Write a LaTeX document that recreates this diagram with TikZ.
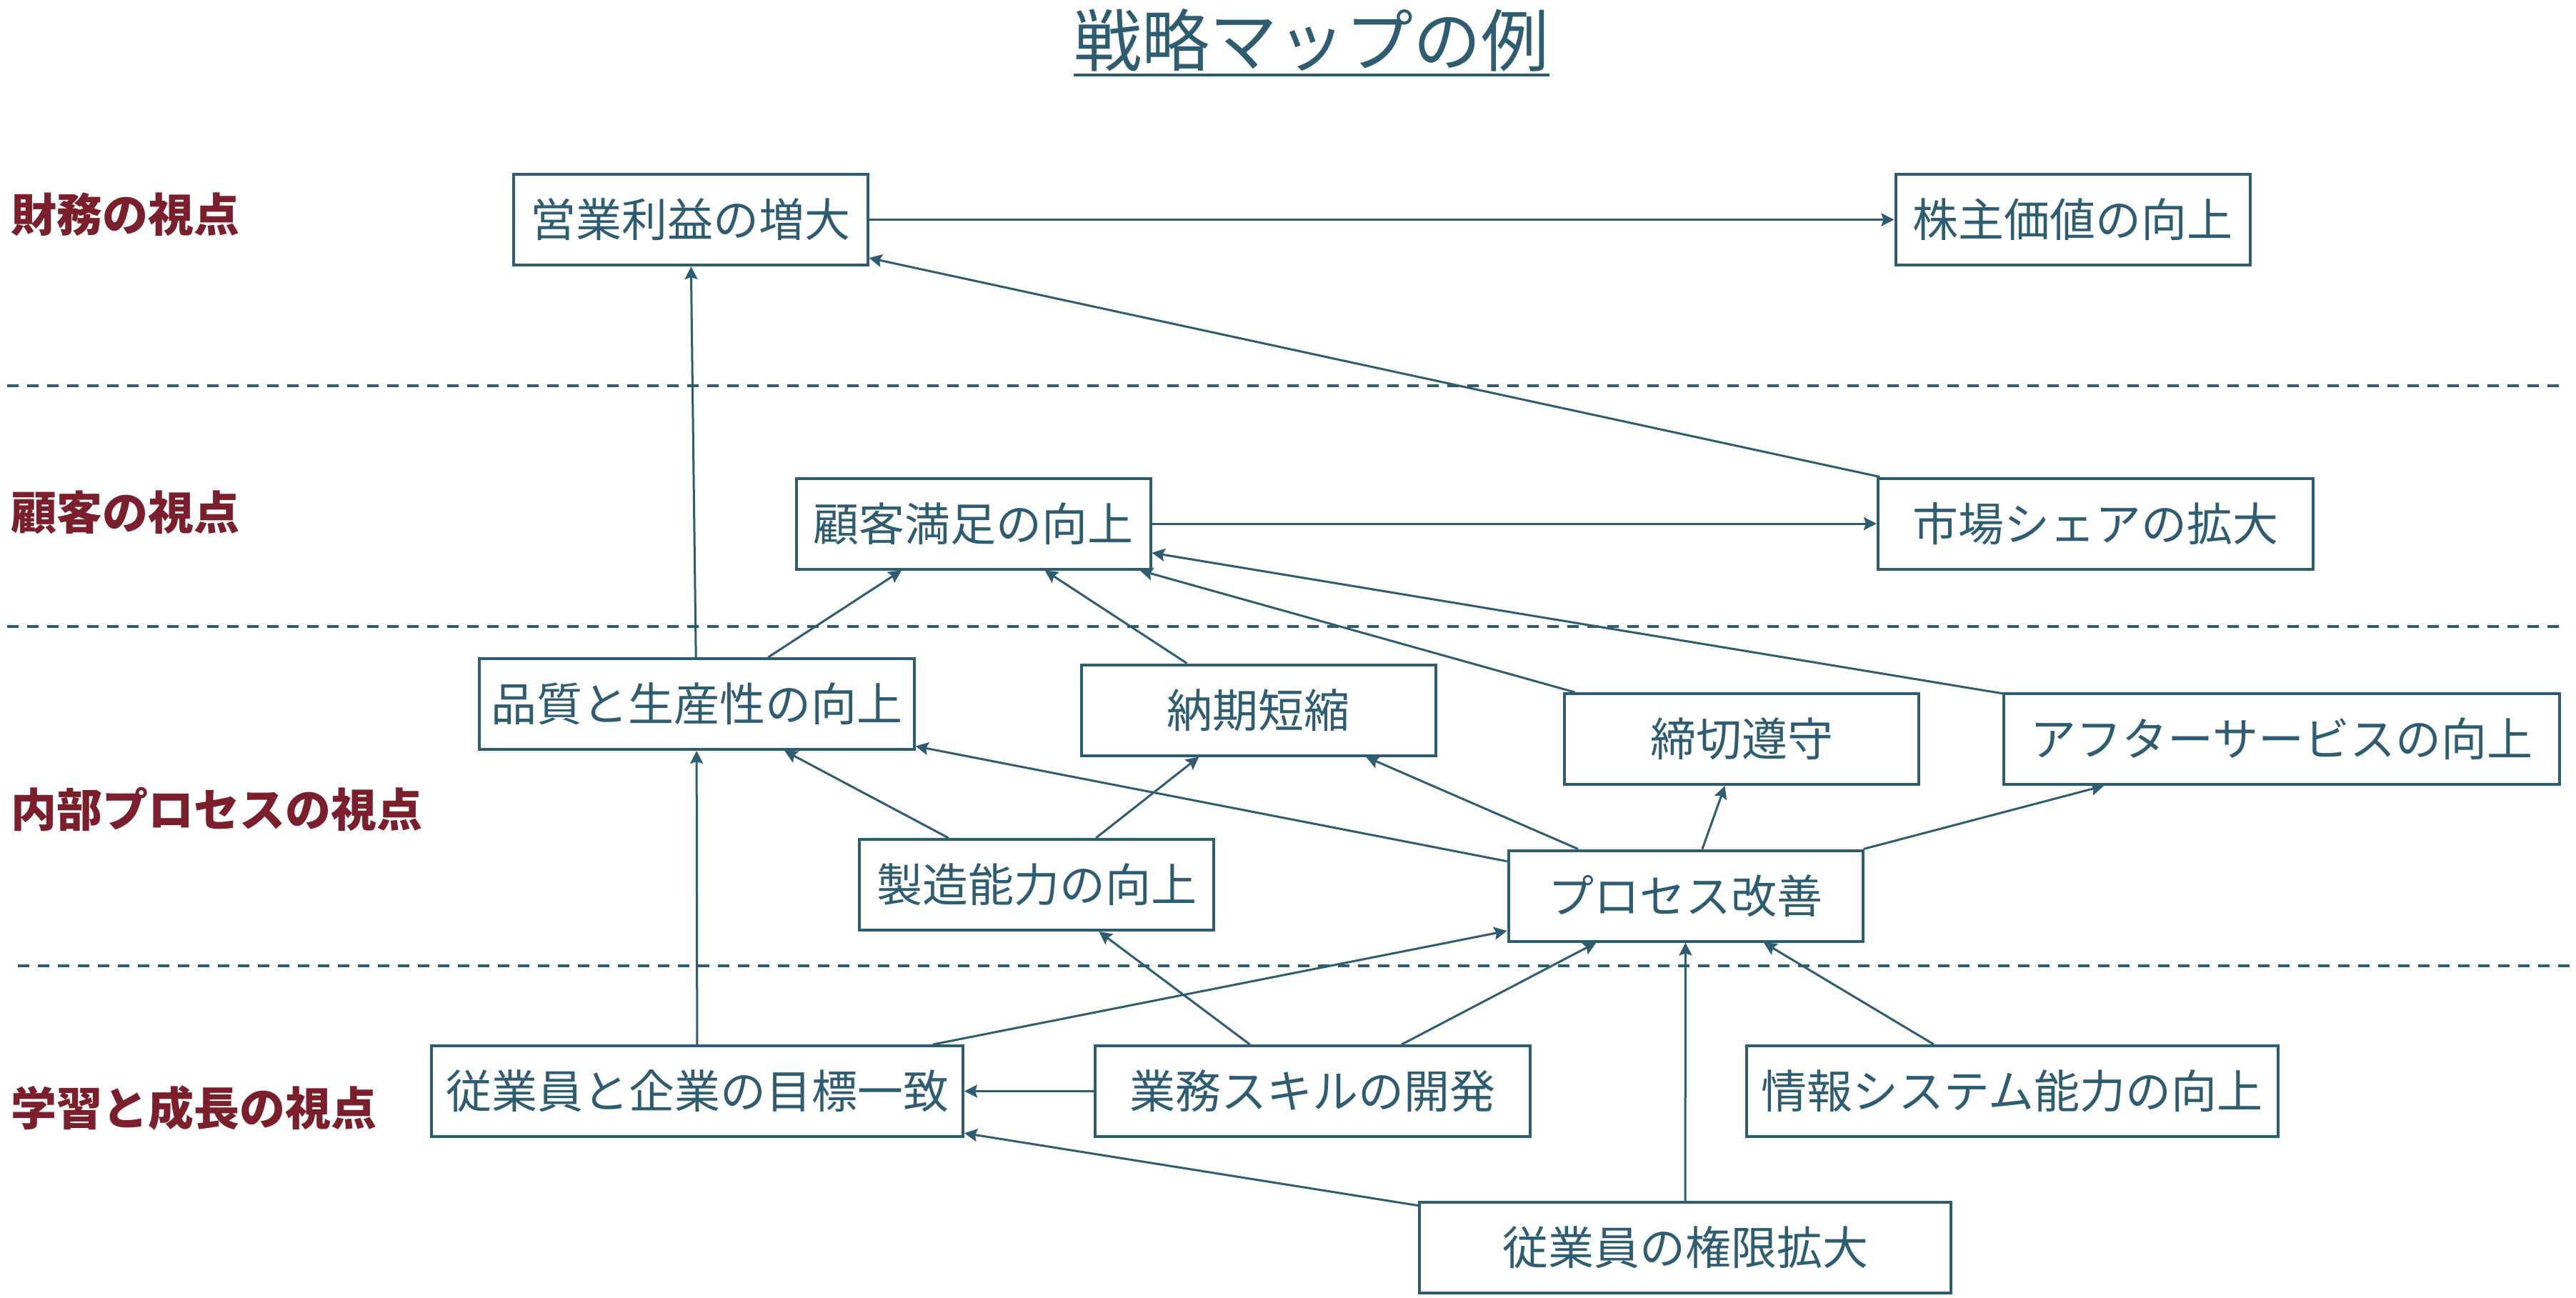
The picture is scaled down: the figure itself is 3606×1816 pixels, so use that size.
\documentclass[tikz,border=0pt]{standalone}
\usepackage{fontspec}
\setmainfont{Noto Sans CJK JP}
\usetikzlibrary{arrows.meta,calc}
\definecolor{mapteal}{HTML}{2E5C70}
\definecolor{mapred}{HTML}{7A1F2B}
\begin{document}
\begin{tikzpicture}[x=0.5pt,y=-0.5pt,
  box/.style={draw=mapteal,line width=2pt,text=mapteal,font=\fontsize{32}{38}\selectfont,
    minimum height=63.5pt,inner sep=0pt,anchor=center},
  wa/.style={minimum width=248pt},
  wb/.style={minimum width=304.5pt},
  wc/.style={minimum width=372pt},
  wd/.style={minimum width=389pt},
  conn/.style={draw=mapteal,line width=1.5pt,-{Stealth[length=9pt,width=9pt,inset=1.5pt]}},
  sepline/.style={draw=mapteal,line width=2pt,dash pattern=on 8pt off 6pt},
  persp/.style={text=mapred,font=\fontsize{32}{38}\selectfont\bfseries,anchor=west,inner sep=0pt}]
\useasboundingbox (0,0) rectangle (3606,1816);

% title
\node[font=\fontsize{47.5}{57}\selectfont,text=mapteal,inner sep=0pt,anchor=base] (title) at (1836,92) {戦略マップの例};
\draw[mapteal,line width=2pt] ($(title.base west)+(0,13)$) -- ($(title.base east)+(0,13)$);

% separators
\coordinate (s1a) at (10,540);   \coordinate (s1b) at (3585,540);
\coordinate (s2a) at (10,877);   \coordinate (s2b) at (3585,877);
\coordinate (s3a) at (25,1352);  \coordinate (s3b) at (3600,1352);
\draw[sepline] (s1a) -- (s1b);
\draw[sepline] (s2a) -- (s2b);
\draw[sepline] (s3a) -- (s3b);

% perspective labels
\node[persp] (pf) at (15,300)  {財務の視点};
\node[persp] (pc) at (15,717)  {顧客の視点};
\node[persp] (pi) at (15,1133) {内部プロセスの視点};
\node[persp] (pl) at (15,1551) {学習と成長の視点};

% boxes
\node[box,wa] (eigyo)     at (966.5,307.5)  {営業利益の増大};
\node[box,wa] (kabu)      at (2901.5,307.5) {株主価値の向上};
\node[box,wa] (kokyaku)   at (1362.5,733)   {顧客満足の向上};
\node[box,wb] (shijo)     at (2933.5,733)   {市場シェアの拡大};
\node[box,wb] (hinshitsu) at (975,985.5)    {品質と生産性の向上};
\node[box,wa] (noki)      at (1761.5,994)   {納期短縮};
\node[box,wa] (shimekiri) at (2438,1034.5)  {締切遵守};
\node[box,wd] (after)     at (3194,1034.5)  {アフターサービスの向上};
\node[box,wa] (seizo)     at (1451,1238.5)  {製造能力の向上};
\node[box,wa] (process)   at (2359.5,1254)  {プロセス改善};
\node[box,wc] (mokuhyo)   at (976,1527.5)   {従業員と企業の目標一致};
\node[box,wb] (gyomu)     at (1837,1527.5)  {業務スキルの開発};
\node[box,wc] (joho)      at (2816.5,1527.5){情報システム能力の向上};
\node[box,wc] (kengen)    at (2359,1746.5)  {従業員の権限拡大};

% connectors
\draw[conn] (eigyo) -- (kabu);
\draw[conn] (shijo) -- (eigyo);
\draw[conn] (kokyaku) -- (shijo);
\draw[conn] (hinshitsu) -- (eigyo);
\draw[conn] (hinshitsu) -- (kokyaku);
\draw[conn] (noki) -- (kokyaku);
\draw[conn] (shimekiri) -- (kokyaku);
\draw[conn] (after) -- (kokyaku);
\draw[conn] (seizo) -- (hinshitsu);
\draw[conn] (seizo) -- (noki);
\draw[conn] (process) -- (hinshitsu);
\draw[conn] (process) -- (noki);
\draw[conn] (process) -- (shimekiri);
\draw[conn] (process) -- (after);
\draw[conn] (mokuhyo) -- (hinshitsu);
\draw[conn] (mokuhyo) -- (process);
\draw[conn] (gyomu) -- (mokuhyo);
\draw[conn] (gyomu) -- (seizo);
\draw[conn] (gyomu) -- (process);
\draw[conn] (kengen) -- (mokuhyo);
\draw[conn] (kengen) -- (process);
\draw[conn] (joho) -- (process);
\end{tikzpicture}
\end{document}
